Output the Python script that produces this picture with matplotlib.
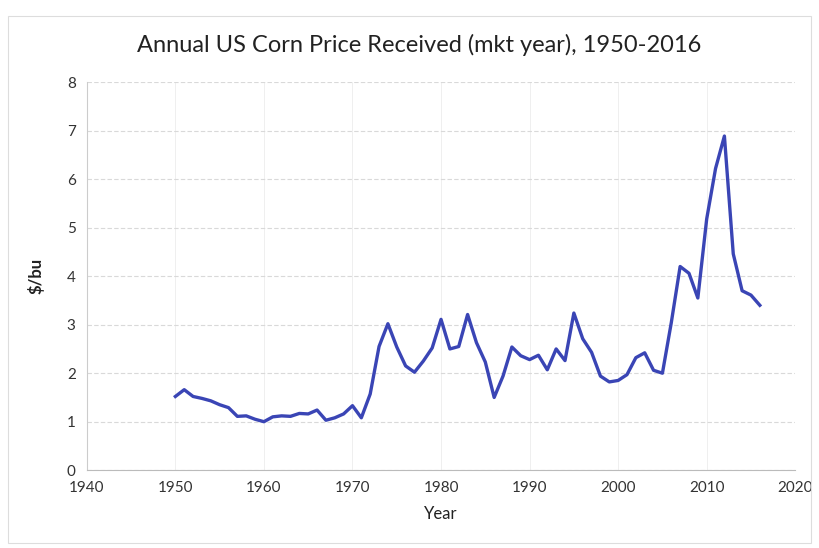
import matplotlib.pyplot as plt

# Annual US corn price received, marketing year ($/bu)
years = list(range(1950, 2017))
price = [1.52, 1.66, 1.52, 1.48, 1.43, 1.35, 1.29, 1.11, 1.12, 1.05,
         1.00, 1.10, 1.12, 1.11, 1.17, 1.16, 1.24, 1.03, 1.08, 1.16,
         1.33, 1.08, 1.57, 2.55, 3.02, 2.54, 2.15, 2.02, 2.25, 2.52,
         3.11, 2.50, 2.55, 3.21, 2.63, 2.23, 1.50, 1.94, 2.54, 2.36,
         2.28, 2.37, 2.07, 2.50, 2.26, 3.24, 2.71, 2.43, 1.94, 1.82,
         1.85, 1.97, 2.32, 2.42, 2.06, 2.00, 3.04, 4.20, 4.06, 3.55,
         5.18, 6.22, 6.89, 4.46, 3.70, 3.61, 3.40]

plt.rcParams['font.family'] = ['Lato', 'DejaVu Sans']

fig = plt.figure(figsize=(8.19, 5.48), dpi=100)
ax = fig.add_axes([0.106, 0.142, 0.865, 0.708])

ax.plot(years, price, color='#3a45b5', linewidth=2.4)

ax.set_xlim(1940, 2020)
ax.set_ylim(0, 8)
ax.set_xticks(range(1940, 2021, 10))
ax.set_yticks(range(0, 9))
ax.tick_params(length=0, labelsize=11, colors='#333333', pad=8)

ax.grid(axis='y', color='#d9d9d9', linewidth=0.8, linestyle=(0, (4, 2)))
ax.grid(axis='x', color='#ececec', linewidth=0.6)
ax.set_axisbelow(True)
for side in ['top', 'right']:
    ax.spines[side].set_visible(False)
ax.spines['left'].set_color('#cccccc')
ax.spines['bottom'].set_color('#bbbbbb')

fig.text(0.512, 0.918, 'Annual US Corn Price Received (mkt year), 1950-2016',
         fontsize=17, color='#222222', ha='center', va='center')
ax.set_xlabel('Year', fontsize=12, color='#222222', labelpad=8)
ax.set_ylabel('$/bu', fontsize=12, fontweight='bold', color='#222222', labelpad=16)

# thin outer frame like the pasted chart border
fig.patches.append(plt.Rectangle((0.01, 0.01), 0.98, 0.96, transform=fig.transFigure,
                                 fill=False, edgecolor='#dddddd', linewidth=0.8))

fig.savefig('out.png', dpi=100)
